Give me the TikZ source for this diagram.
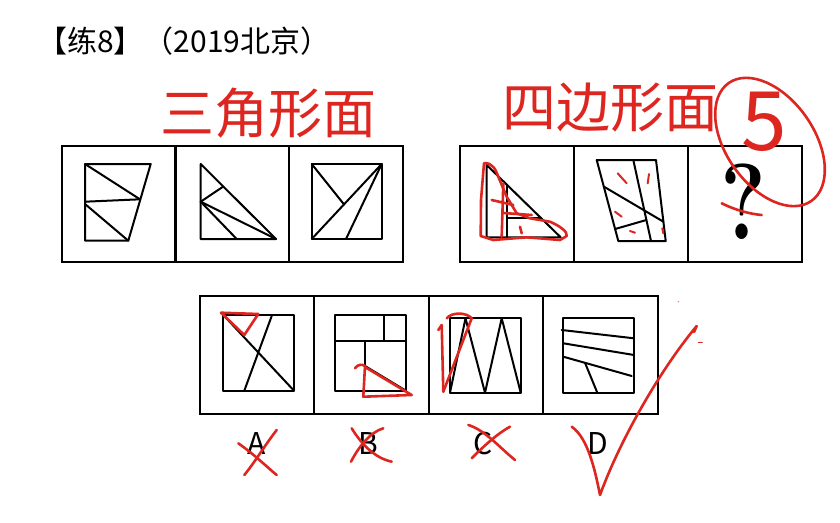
\documentclass[tikz,border=0pt]{standalone}
\usepackage{fontspec}
\newfontfamily\cjk{Noto Sans CJK SC}
\usepackage{tikz}
\definecolor{ink}{RGB}{222,38,32}

\tikzset{
	cell/.style={draw, line width=2pt, minimum width=114pt, minimum height=116pt, inner sep=0pt, outer sep=0pt},
	fig/.style={line width=2pt, line join=round, line cap=round},
	pen/.style={draw=ink, line width=2.6pt, line join=round, line cap=round},
	hand/.style={text=ink, font=\cjk\fontsize{54}{54}\selectfont, inner sep=0pt},
	choice/.style={font=\cjk\fontsize{30}{30}\selectfont, inner sep=0pt}
}

\begin{document}
\begin{tikzpicture}[x=1pt, y=-1pt]
	\useasboundingbox (0,0) rectangle (840,522);

	\node[anchor=west, inner sep=0pt, font=\cjk\fontsize{30}{30}\selectfont] (title) at (37,41) {【练8】（2019北京）};

	%rangee du haut
	\node[cell] (t1) at (118.5,204) {};
	\node[cell] (t2) at (232,204) {};
	\node[cell] (t3) at (346,204) {};
	\node[cell] (t4) at (516.75,204) {};
	\node[cell] (t5) at (630.5,204) {};
	\node[cell] (t6) at (744.5,204) {};

	\draw[fig] (85,164) -- (150.7,164) -- (128.3,240.7) -- (85,240.7) -- cycle;
	\draw[fig] (85,164) to (140,199.3);
	\draw[fig] (85,201.7) to (140,199.3);
	\draw[fig] (85,204) to (128.3,240.7);

	\draw[fig] (200.7,164) -- (200.7,239) -- (276,239) -- cycle;
	\draw[fig] (200.7,201.7) to (223.3,186.5);
	\draw[fig] (200.7,201.7) to (276,239);
	\draw[fig] (200.7,201.7) to (236.7,239);

	\draw[fig] (311.7,164) rectangle (381.7,239);
	\draw[fig] (311.7,239) to (381.7,164);
	\draw[fig] (311.7,164) to (344,204.4);
	\draw[fig] (381.7,164) to (346,239);

	\draw[fig] (486.7,165) -- (486.7,237.3) -- (560.7,237.3) -- cycle;
	\draw[fig] (507,184.8) to (507,237.3);
	\draw[fig] (507,218) to (541,218);

	\draw[fig] (596.7,160) -- (656,160) -- (665.7,241) -- (618.3,241) -- cycle;
	\draw[fig] (633.3,160) to (651,241);
	\draw[fig] (604,186.7) to (663.4,221.7);
	\draw[fig] (615.1,229) to (646.4,220);

	\node[inner sep=0pt, xscale=0.8, font=\bfseries\fontsize{108}{108}\selectfont] (qm) at (743.5,202) {?};

	%rangee du bas
	\node[cell, minimum width=114.5pt, minimum height=118pt] (a) at (256.75,355) {};
	\node[cell, minimum width=114.5pt, minimum height=118pt] (b) at (371.25,355) {};
	\node[cell, minimum width=114.5pt, minimum height=118pt] (c) at (485.75,355) {};
	\node[cell, minimum width=114.5pt, minimum height=118pt] (d) at (600.25,355) {};

	\draw[fig] (223.3,315) rectangle (294,390.7);
	\draw[fig] (223.3,315) to (294,390.7);
	\draw[fig] (271.7,316) to (244.3,390.7);

	\draw[fig] (335,315) rectangle (406,390.7);
	\draw[fig] (335,341) to (406,341);
	\draw[fig] (384,315) to (384,341);
	\draw[fig] (365,341) to (365,366);
	\draw[fig] (365,366) to (406,390.7);

	\draw[fig] (450,318.3) rectangle (520.7,392.7);
	\draw[fig] (450,392.7) -- (465.5,318.3) -- (485,392.7) -- (501.7,318.3) -- (520.7,392.7);

	\draw[fig] (563.3,318.3) rectangle (634,392.7);
	\draw[fig] (561.7,330) to (634,338.3);
	\draw[fig] (563.3,343.3) to (634,355);
	\draw[fig] (563.3,356.7) to (631.7,376);
	\draw[fig] (585,362.8) to (597.3,392.7);

	\node[choice] (la) at (256.7,443) {A};
	\node[choice] (lb) at (368.3,443) {B};
	\node[choice] (lc) at (483.3,443) {C};
	\node[choice] (ld) at (598.3,443) {D};

	%annotations a la main
	\node[hand] (tri) at (268,113) {三角形面};
	\node[hand] (quad) at (610,108) {四边形面};
	\node[text=ink, inner sep=0pt, font=\cjk\fontsize{82}{82}\selectfont] (five) at (764,122) {5};
	\draw[pen] (770,142) ellipse [x radius=72, y radius=44, rotate=-55];
	\draw[pen] (721.7,203.3) .. controls (735,210) and (750,214) .. (761.7,215);

	\draw[pen] (484,163.3) .. controls (492,162) and (496,170) .. (498.3,176.7)
		-- (506.7,196.7) -- (516.7,213.3) -- (530,218.3) -- (550,221.7)
		.. controls (560,226) and (568,232) .. (566.7,236) -- (560,240)
		-- (526.7,237.3) -- (493.3,240) -- (480.7,236) -- (481,200) -- cycle;
	\draw[pen] (503.3,183.3) to (501.7,236.7);
	\draw[pen] (491.7,200) to (513.3,205);
	\draw[pen] (503.3,213) to (531.7,215);
	\draw[pen] (520,226.7) to (521.7,233.3);

	\draw[pen, line width=2pt] (617.7,173.3) to (626.7,183.3);
	\draw[pen, line width=2pt] (649,174) to (647.7,183.3);
	\draw[pen, line width=2pt] (615,211.7) to (621.7,216.7);
	\draw[pen, line width=2pt] (630,231) to (635,232.7);
	\draw[pen, line width=2pt] (662.3,228.3) to (663.3,233.3);

	\draw[pen] (221,312.7) -- (258.3,314) -- (244.3,335) -- cycle;
	\draw[pen] (355,368.3) .. controls (358,364) and (362,364) .. (365,366)
		-- (363.3,396.7) -- (411.7,395) -- (365,367);
	\draw[pen] (438.3,330) -- (441.7,325) -- (443.3,391.7);
	\draw[pen] (443.3,391.7) -- (471.7,318.3) .. controls (466,312) and (452,312) .. (446.7,318.3);

	\draw[pen] (238.3,443.3) .. controls (255,455) and (268,468) .. (276.7,475);
	\draw[pen] (276.7,430) .. controls (265,445) and (255,462) .. (244.3,475);
	\draw[pen] (351.7,428.3) .. controls (362,445) and (375,458) .. (391.7,461.7);
	\draw[pen] (383.3,428.3) .. controls (370,432) and (358,448) .. (351,461.7);
	\draw[pen] (468.3,425) .. controls (485,430) and (500,448) .. (515,460);
	\draw[pen] (510,426.7) .. controls (495,435) and (480,450) .. (471.7,458.3);

	\draw[pen] (571.7,426.7) .. controls (588,438) and (595,470) .. (600,495)
		.. controls (620,440) and (660,370) .. (696.7,326) -- (694,332);
	\draw[pen, line width=1.5pt] (698.5,342.5) to (702,342.5);
	\fill[ink!60] (678.3,301.7) circle (0.8pt);
\end{tikzpicture}
\end{document}
